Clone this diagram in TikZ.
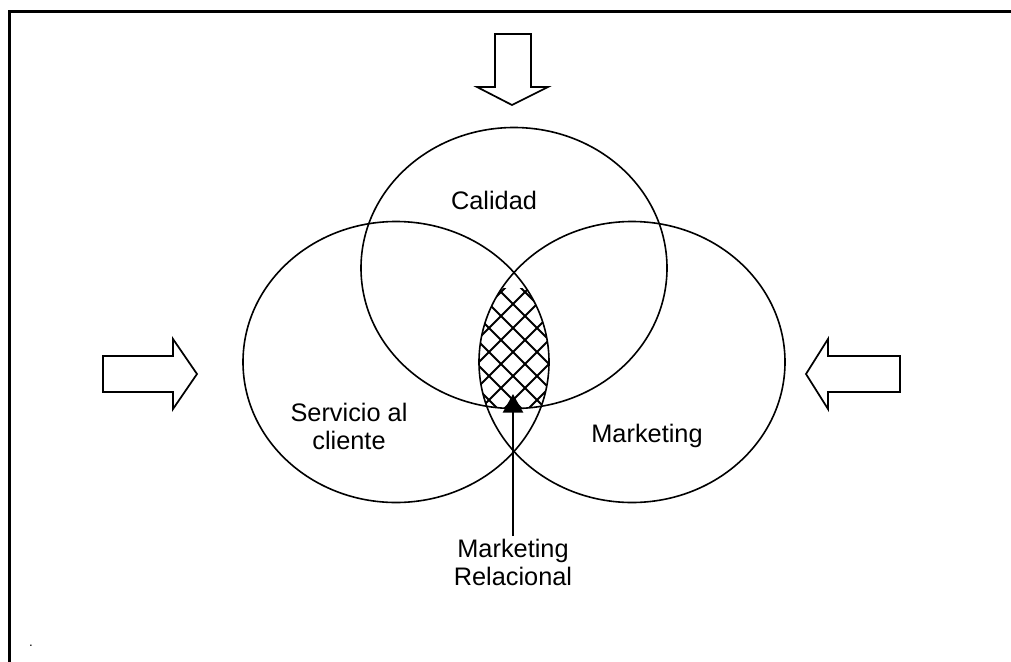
\documentclass[tikz,border=0pt]{standalone}
\usepackage{fontspec}
\setmainfont{Liberation Sans}
\usetikzlibrary{shapes.geometric,arrows.meta}

\begin{document}
\begin{tikzpicture}[x=0.75pt,y=-0.75pt,
    venn/.style={draw,ellipse,line width=1.2pt,minimum width=229.5pt,minimum height=210.75pt},
    lbl/.style={font=\fontsize{19}{21}\selectfont,align=center,inner sep=2pt},
    bigarrow/.style={draw,line width=1.3pt,line join=miter},
    hatch/.style={line width=1.5pt}]
      \useasboundingbox (0,0) rectangle (1011,661);
      \draw[line width=2.6pt] (9.5,11.5) rectangle (1040,690);

      % the three sets
      \node[venn] (cal) at (514,268) {};
      \node[venn] (serv) at (396,362) {};
      \node[venn] (mkt) at (632,362) {};

      % shared part
      \begin{scope}
        \clip (514,268) ellipse [x radius=153, y radius=140.5];
        \clip (396,362) ellipse [x radius=153, y radius=140.5];
        \clip (632,362) ellipse [x radius=153, y radius=140.5];
        \clip (440,288) rectangle (590,420);
        \foreach \k in {-7,...,7}
          {\draw[hatch] (513+\k*24,352) ++(-120,-120) -- ++(240,240);
           \draw[hatch] (513+\k*24,352) ++(120,-120) -- ++(-240,240);}
      \end{scope}

      \node[lbl] (caltxt) at (494,200) {Calidad};
      \node[lbl] (servtxt) at (349,426) {Servicio al\\cliente};
      \node[lbl] (mkttxt) at (647,436) {Marketing};
      \node[lbl,anchor=north] (rel) at (513,536) {Marketing\\Relacional};
      \node[lbl,font=\fontsize{10}{10}\selectfont] (punto) at (31,646) {.};

      \coordinate (tip) at (513,394);
      \draw[line width=2pt,-{Triangle[width=15pt,length=14pt]}] (rel) -- (tip);

      % arrows from outside
      \draw[bigarrow] (495,34) -- (531,34) -- (531,87) -- (548,87) -- (512,105) -- (477,87) -- (495,87) -- cycle;
      \draw[bigarrow] (103,356) -- (173,356) -- (173,339) -- (197,374) -- (173,409) -- (173,392) -- (103,392) -- cycle;
      \draw[bigarrow] (900,356) -- (828,356) -- (828,339) -- (806,374) -- (828,409) -- (828,392) -- (900,392) -- cycle;
    \end{tikzpicture}
\end{document}
